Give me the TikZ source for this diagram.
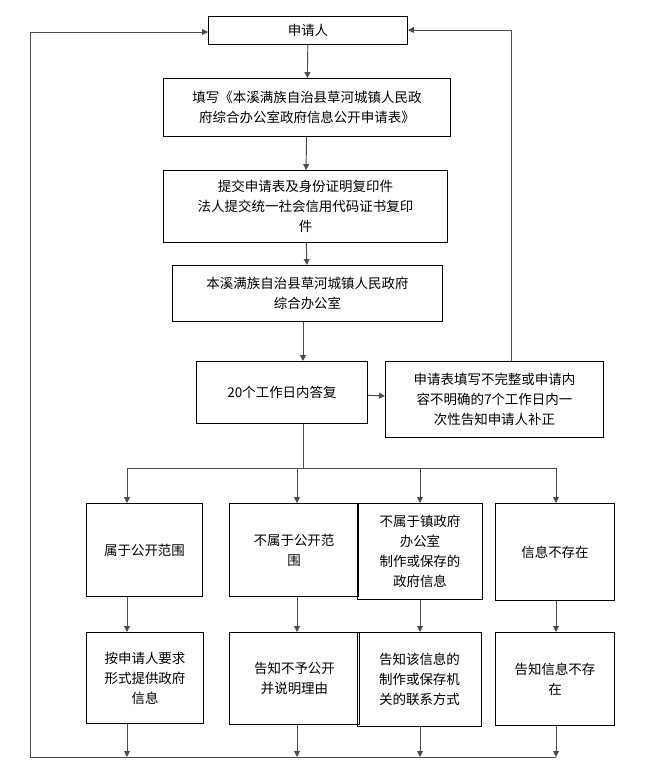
\documentclass[tikz,border=0pt]{standalone}
\usepackage{fontspec}
\setmainfont{Noto Sans CJK SC}
\usetikzlibrary{arrows.meta}
\begin{document}
\begin{tikzpicture}[x=0.03cm,y=-0.03cm,
 box/.style={draw,thick,align=center,font=\fontsize{11.5}{17}\selectfont,inner sep=2pt},
 ar/.style={-{Triangle[length=5pt,width=5pt]},thick,gray!60!black}]
\useasboundingbox (0,0) rectangle (667,772);
\newcommand{\bx}[6]{\node[box,minimum width=#4*0.03cm-0.8pt,minimum height=#5*0.03cm-0.8pt] (#1) at ({(#2+#4/2)},{(#3+#5/2)}) {#6};}
\bx{a}{208}{16}{200}{29}{申请人}
\bx{b}{163}{78}{288}{59}{填写《本溪满族自治县草河城镇人民政\\府综合办公室政府信息公开申请表》}
\bx{c}{163}{170}{285}{73}{提交申请表及身份证明复印件\\法人提交统一社会信用代码证书复印\\件}
\bx{d}{172}{265}{271}{57}{本溪满族自治县草河城镇人民政府\\综合办公室}
\bx{e}{196}{361}{172}{63}{20个工作日内答复}
\bx{f}{385}{361}{219}{77}{申请表填写不完整或申请内\\容不明确的7个工作日内一\\次性告知申请人补正}
\bx{g1}{86}{503}{117}{94}{属于公开范围}
\bx{g2}{229}{503}{130}{94}{不属于公开范\\围}
\bx{g3}{357}{503}{126}{97}{不属于镇政府\\办公室\\制作或保存的\\政府信息}
\bx{g4}{495}{503}{120}{98}{信息不存在}
\bx{h1}{86}{632}{118}{92}{按申请人要求\\形式提供政府\\信息}
\bx{h2}{229}{632}{131}{93}{告知不予公开\\并说明理由}
\bx{h3}{357}{632}{125}{95}{告知该信息的\\制作或保存机\\关的联系方式}
\bx{h4}{495}{632}{120}{94}{告知信息不存\\在}
\draw[ar] (a) -- (b);
\draw[ar] (b) -- (c);
\draw[ar] (c) -- (d);
\draw[ar] (d.south -| 303,0) -- (e.north -| 303,0);
\draw[ar] (e) -- (f);
\coordinate (j) at (303,468);
\draw[thick,gray!60!black] (e.south -| j) -- (j);
\draw[thick,gray!60!black] (127,468) -- (556,468);
\foreach \x/\n in {127/1,297/2,420/3,556/4}{
 \draw[ar] (\x,468) -- (\x,503);
 \draw[ar] (g\n.south -| \x,0) -- (h\n.north -| \x,0);
 \draw[ar] (h\n.south -| \x,0) -- (\x,757);
}
\coordinate (bl) at (30,757);
\draw[thick,gray!60!black] (bl) -- (556,757);
\draw[ar] (bl) -- (30,32) -- (a.west |- 0,32);
\draw[ar] (f.north -| 511,0) -- (511,30) -- (a.east |- 0,30);
\end{tikzpicture}
\end{document}
